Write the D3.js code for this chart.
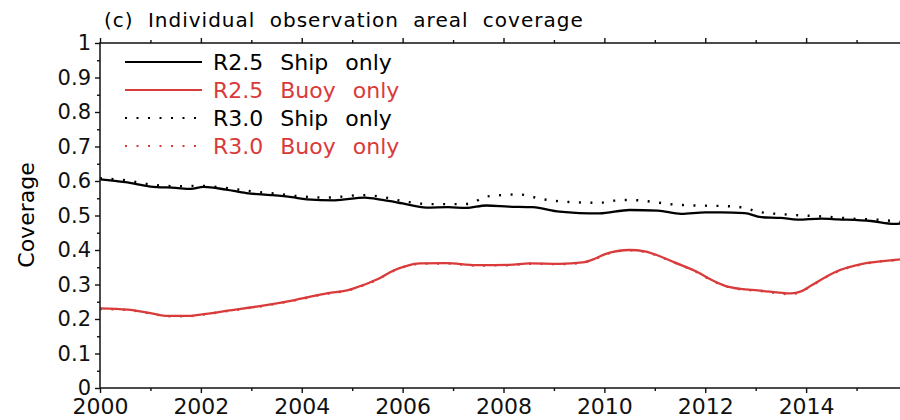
<!DOCTYPE html>
<html>
<head>
<meta charset="utf-8">
<script src="https://cdn.jsdelivr.net/npm/d3@7"></script>
<style>
  body { margin: 0; background: #fff; }
  svg { display: block; font-family: "DejaVu Sans", sans-serif; }
</style>
</head>
<body>
<div class="chart"></div>
<script>
// (c) Individual observation areal coverage

const TITLE = '(c) Individual observation areal coverage'
const YLABEL = 'Coverage'

const X_MAJOR = [2000, 2002, 2004, 2006, 2008, 2010, 2012, 2014]
const X_MINOR = [2001, 2003, 2005, 2007, 2009, 2011, 2013, 2015]
const Y_MAJOR = [0, 0.1, 0.2, 0.3, 0.4, 0.5, 0.6, 0.7, 0.8, 0.9, 1]
const Y_MINOR = [0.05, 0.15, 0.25, 0.35, 0.45, 0.55, 0.65, 0.75, 0.85, 0.95]

// R2.5 Ship only
const shipYears25 = [2000, 2000.5, 2001, 2001.5, 2001.8, 2002.05, 2002.5, 2002.9, 2003.4, 2003.8,
  2004.1, 2004.65, 2005.25, 2005.6, 2006, 2006.47, 2006.9, 2007.26, 2007.66, 2008.1,
  2008.58, 2009.11, 2009.5, 2009.9, 2010.5, 2011.06, 2011.52, 2012, 2012.31, 2012.78,
  2013.11, 2013.5, 2013.83, 2014.3, 2014.63, 2015.29, 2015.75, 2016]
const shipValues25 = [0.605, 0.597, 0.584, 0.580, 0.577, 0.583, 0.575, 0.565, 0.559, 0.553,
  0.547, 0.544, 0.552, 0.545, 0.535, 0.523, 0.524, 0.522, 0.529, 0.526,
  0.524, 0.511, 0.507, 0.506, 0.516, 0.514, 0.505, 0.509, 0.509, 0.507,
  0.495, 0.493, 0.488, 0.491, 0.489, 0.484, 0.476, 0.478]

// R3.0 Ship only
const shipYears30 = [2000, 2000.5, 2001, 2001.5, 2002, 2002.5, 2003, 2003.5, 2004, 2004.5,
  2005.2, 2005.5, 2006.07, 2006.53, 2007.23, 2007.43, 2007.66, 2008.32, 2008.75, 2009.21,
  2009.9, 2010.2, 2010.5, 2011.45, 2012.57, 2012.84, 2013.04, 2013.7, 2014.36, 2015.02,
  2015.5, 2016]
const shipValues30 = [0.608, 0.602, 0.590, 0.585, 0.586, 0.580, 0.570, 0.563, 0.555, 0.552,
  0.559, 0.556, 0.540, 0.533, 0.533, 0.540, 0.555, 0.561, 0.548, 0.540,
  0.537, 0.543, 0.545, 0.531, 0.526, 0.520, 0.511, 0.502, 0.497, 0.490,
  0.487, 0.479]

// R2.5 Buoy only
const buoyYears25 = [2000, 2000.55, 2001, 2001.35, 2001.74, 2002.1, 2002.53, 2003.2, 2003.86, 2004.52,
  2004.92, 2005.25, 2005.5, 2005.81, 2006.1, 2006.34, 2006.86, 2007.46, 2008.12, 2008.52,
  2009.11, 2009.57, 2009.8, 2010.03, 2010.5, 2010.8, 2011.1, 2011.39, 2011.86, 2012.1,
  2012.38, 2012.7, 2013.04, 2013.7, 2013.9, 2014.1, 2014.56, 2015.16, 2015.5, 2015.82, 2016]
const buoyValues25 = [0.231, 0.227, 0.217, 0.209, 0.209, 0.215, 0.224, 0.238, 0.255, 0.275,
  0.284, 0.300, 0.315, 0.340, 0.355, 0.361, 0.362, 0.356, 0.357, 0.361,
  0.360, 0.364, 0.374, 0.389, 0.400, 0.396, 0.382, 0.364, 0.335, 0.315,
  0.297, 0.287, 0.283, 0.274, 0.280, 0.297, 0.335, 0.361, 0.368, 0.372, 0.375]

// R3.0 Buoy only
const buoyYears30 = [2000, 2000.55, 2001, 2001.35, 2001.74, 2002.1, 2002.53, 2003.2, 2003.86, 2004.52,
  2004.92, 2005.25, 2005.5, 2005.81, 2006.1, 2006.34, 2006.86, 2007.46, 2008.12, 2008.52,
  2009.11, 2009.57, 2009.8, 2010.03, 2010.5, 2010.8, 2011.1, 2011.39, 2011.86, 2012.1,
  2012.38, 2012.7, 2013.04, 2013.7, 2013.9, 2014.1, 2014.56, 2015.16, 2015.5, 2015.82, 2016]
const buoyValues30 = [0.229, 0.226, 0.216, 0.208, 0.208, 0.214, 0.223, 0.237, 0.254, 0.274,
  0.283, 0.299, 0.314, 0.339, 0.354, 0.360, 0.361, 0.355, 0.356, 0.360,
  0.359, 0.363, 0.373, 0.388, 0.399, 0.395, 0.381, 0.363, 0.334, 0.314,
  0.296, 0.286, 0.282, 0.272, 0.279, 0.296, 0.334, 0.360, 0.367, 0.371, 0.374]

const RED = '#d93b3b'

const SERIES = [
  { label: 'R2.5 Ship only', years: shipYears25, values: shipValues25, color: '#000', dash: null },
  { label: 'R2.5 Buoy only', years: buoyYears25, values: buoyValues25, color: RED, dash: null },
  { label: 'R3.0 Ship only', years: shipYears30, values: shipValues30, color: '#000', dash: '2,9.5' },
  { label: 'R3.0 Buoy only', years: buoyYears30, values: buoyValues30, color: RED, dash: '2,9.5' },
]

var svgWidth = 900
var svgHeight = 420

var margin = { top: 43, left: 100 }
var width = 807
var height = 345

var svg = d3.select('.chart')
  .append('svg')
  .attr('width', svgWidth)
  .attr('height', svgHeight)

var chartGroup = svg.append('g')
  .attr('transform', `translate(${margin.left}, ${margin.top})`)

var xScale = d3.scaleLinear().domain([2000, 2016]).range([0, width])
var yScale = d3.scaleLinear().domain([0, 1]).range([height, 0])

// Title
svg.append('text')
  .attr('x', 104)
  .attr('y', 27)
  .attr('font-size', '20px')
  .attr('letter-spacing', '1px')
  .attr('word-spacing', '7px')
  .text(TITLE)

// Y label
svg.append('text')
  .attr('transform', `translate(34, 215) rotate(-90)`)
  .attr('text-anchor', 'middle')
  .attr('font-size', '22px')
  .text(YLABEL)

// Lines
var line = d3.line()
  .x(d => xScale(d[0]))
  .y(d => yScale(d[1]))
  .curve(d3.curveMonotoneX)

// draw dotted first so solid sits on top like the original
var order = [2, 3, 0, 1]
order.forEach(i => {
  var s = SERIES[i]
  var pts = s.years.map((yr, j) => [yr, s.values[j]])
  chartGroup.append('path')
    .datum(pts)
    .attr('fill', 'none')
    .attr('stroke', s.color)
    .attr('stroke-width', s.dash ? 2.4 : 2.3)
    .attr('stroke-dasharray', s.dash)
    .attr('d', line)
})

// Axes
function styleAxis(g, size) {
  g.select('.domain').remove()
  g.selectAll('line').attr('stroke', '#111').attr('stroke-width', 1.4)
  g.selectAll('text').attr('font-size', size || '22px').attr('fill', '#111')
    .attr('font-family', '"DejaVu Sans", sans-serif')
}

chartGroup.append('g')
  .attr('transform', `translate(0, ${height})`)
  .call(d3.axisBottom(xScale).tickValues(X_MAJOR).tickFormat(d3.format('d'))
    .tickSize(5).tickSizeOuter(0).tickPadding(5))
  .call(styleAxis)

chartGroup.append('g')
  .attr('transform', `translate(0, ${height})`)
  .call(d3.axisBottom(xScale).tickValues(X_MINOR).tickFormat('').tickSize(3).tickSizeOuter(0))
  .call(styleAxis)

chartGroup.append('g')
  .call(d3.axisTop(xScale).tickValues(X_MAJOR).tickFormat('').tickSize(5).tickSizeOuter(0))
  .call(styleAxis)

chartGroup.append('g')
  .call(d3.axisTop(xScale).tickValues(X_MINOR).tickFormat('').tickSize(3).tickSizeOuter(0))
  .call(styleAxis)

chartGroup.append('g')
  .call(d3.axisLeft(yScale).tickValues(Y_MAJOR)
    .tickFormat(d => (d === 0 || d === 1) ? d : d.toFixed(1))
    .tickSize(5).tickSizeOuter(0).tickPadding(4))
  .call(g => styleAxis(g, '21px'))

chartGroup.append('g')
  .call(d3.axisLeft(yScale).tickValues(Y_MINOR).tickFormat('').tickSize(3).tickSizeOuter(0))
  .call(styleAxis)

// Frame
chartGroup.append('rect')
  .attr('width', width)
  .attr('height', height)
  .attr('fill', 'none')
  .attr('stroke', '#111')
  .attr('stroke-width', 1.5)

// Legend
var legend = svg.append('g')
SERIES.forEach((s, i) => {
  var ly = 62 + i * 28
  legend.append('line')
    .attr('x1', 125).attr('x2', 202)
    .attr('y1', ly).attr('y2', ly)
    .attr('stroke', s.color)
    .attr('stroke-width', 2.2)
    .attr('stroke-dasharray', s.dash)
  legend.append('text')
    .attr('x', 213)
    .attr('y', ly + 8)
    .attr('font-size', '22px')
    .attr('word-spacing', '10px')
    .attr('fill', s.color)
    .text(s.label)
})
</script>
</body>
</html>
